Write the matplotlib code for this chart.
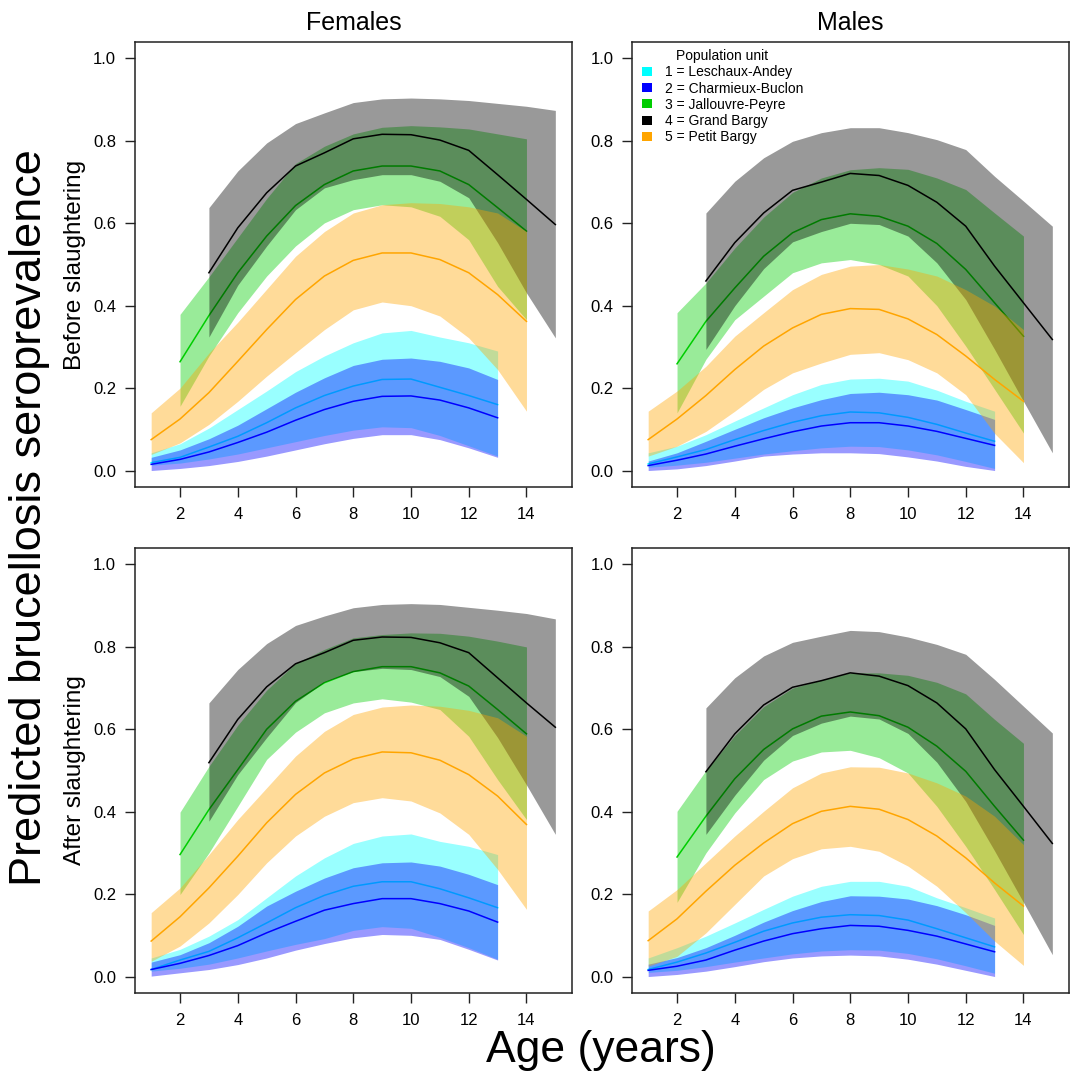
import matplotlib
matplotlib.use('Agg')
import matplotlib.pyplot as plt
from matplotlib.patches import Patch

plt.rcParams['font.family'] = ['Liberation Sans', 'DejaVu Sans']

# AGES covered by each population unit
AGES_U1 = [1, 2, 3, 4, 5, 6, 7, 8, 9, 10, 11, 12, 13]
AGES_U2 = [1, 2, 3, 4, 5, 6, 7, 8, 9, 10, 11, 12, 13]
AGES_U3 = [2, 3, 4, 5, 6, 7, 8, 9, 10, 11, 12, 13, 14]
AGES_U4 = [3, 4, 5, 6, 7, 8, 9, 10, 11, 12, 13, 14, 15]
AGES_U5 = [1, 2, 3, 4, 5, 6, 7, 8, 9, 10, 11, 12, 13, 14]

UNIT_LABELS = ['1 = Leschaux-Andey', '2 = Charmieux-Buclon', '3 = Jallouvre-Peyre',
               '4 = Grand Bargy', '5 = Petit Bargy']
UNIT_COLORS = ['#00FFFF', '#0000FF', '#00CD00', '#000000', '#FFA500']

# FEMALES, BEFORE SLAUGHTERING  (lower, predicted, upper)
fb_u1 = [[0.013, 0.018, 0.028, 0.04, 0.055, 0.07, 0.085, 0.098, 0.106, 0.104, 0.085, 0.06, 0.035],
         [0.019, 0.032, 0.057, 0.083, 0.116, 0.152, 0.182, 0.205, 0.221, 0.222, 0.202, 0.182, 0.16],
         [0.043, 0.065, 0.103, 0.148, 0.193, 0.24, 0.278, 0.31, 0.334, 0.34, 0.324, 0.31, 0.29]]
fb_u2 = [[0.0, 0.005, 0.012, 0.022, 0.035, 0.05, 0.065, 0.078, 0.087, 0.087, 0.075, 0.055, 0.032],
         [0.015, 0.027, 0.045, 0.068, 0.093, 0.122, 0.148, 0.168, 0.18, 0.181, 0.171, 0.152, 0.128],
         [0.032, 0.05, 0.077, 0.11, 0.15, 0.19, 0.225, 0.255, 0.27, 0.273, 0.265, 0.249, 0.221]]
fb_u3 = [[0.156, 0.278, 0.383, 0.472, 0.545, 0.601, 0.633, 0.645, 0.64, 0.617, 0.56, 0.447, 0.366],
         [0.264, 0.376, 0.48, 0.569, 0.643, 0.694, 0.727, 0.739, 0.739, 0.727, 0.694, 0.638, 0.581],
         [0.379, 0.47, 0.565, 0.66, 0.745, 0.787, 0.817, 0.833, 0.837, 0.834, 0.829, 0.817, 0.805]]
fb_u4 = [[0.324, 0.45, 0.545, 0.633, 0.686, 0.706, 0.718, 0.718, 0.702, 0.662, 0.553, 0.431, 0.322],
         [0.48, 0.589, 0.674, 0.739, 0.771, 0.805, 0.816, 0.815, 0.802, 0.777, 0.718, 0.658, 0.597],
         [0.638, 0.727, 0.795, 0.842, 0.868, 0.893, 0.902, 0.904, 0.902, 0.898, 0.891, 0.884, 0.874]]
fb_u5 = [[0.039, 0.067, 0.112, 0.168, 0.229, 0.286, 0.342, 0.39, 0.409, 0.4, 0.375, 0.322, 0.245, 0.144],
         [0.075, 0.125, 0.189, 0.265, 0.342, 0.415, 0.472, 0.51, 0.528, 0.528, 0.512, 0.48, 0.427, 0.362],
         [0.14, 0.2, 0.285, 0.36, 0.44, 0.52, 0.58, 0.625, 0.645, 0.65, 0.648, 0.64, 0.625, 0.58]]

# MALES, BEFORE SLAUGHTERING
mb_u1 = [[0.008, 0.013, 0.02, 0.03, 0.04, 0.048, 0.055, 0.059, 0.058, 0.05, 0.038, 0.022, 0.005],
         [0.016, 0.033, 0.051, 0.075, 0.097, 0.117, 0.133, 0.142, 0.14, 0.129, 0.112, 0.091, 0.071],
         [0.043, 0.059, 0.087, 0.12, 0.152, 0.184, 0.209, 0.222, 0.224, 0.217, 0.195, 0.168, 0.144]]
mb_u2 = [[0.0, 0.004, 0.012, 0.023, 0.035, 0.04, 0.043, 0.043, 0.041, 0.033, 0.023, 0.01, 0.0],
         [0.012, 0.025, 0.04, 0.059, 0.077, 0.094, 0.108, 0.116, 0.116, 0.108, 0.095, 0.078, 0.061],
         [0.023, 0.043, 0.071, 0.1, 0.128, 0.152, 0.172, 0.187, 0.19, 0.184, 0.171, 0.148, 0.124]]
mb_u3 = [[0.14, 0.27, 0.366, 0.423, 0.48, 0.504, 0.512, 0.5, 0.472, 0.4, 0.302, 0.197, 0.091],
         [0.259, 0.362, 0.443, 0.52, 0.577, 0.609, 0.623, 0.617, 0.593, 0.551, 0.488, 0.407, 0.326],
         [0.383, 0.455, 0.54, 0.615, 0.675, 0.71, 0.73, 0.735, 0.731, 0.71, 0.682, 0.625, 0.569]]
mb_u4 = [[0.294, 0.4, 0.49, 0.555, 0.58, 0.6, 0.597, 0.569, 0.504, 0.415, 0.294, 0.168, 0.043],
         [0.46, 0.553, 0.625, 0.68, 0.7, 0.721, 0.716, 0.692, 0.651, 0.593, 0.496, 0.407, 0.318],
         [0.625, 0.702, 0.759, 0.799, 0.82, 0.832, 0.832, 0.82, 0.803, 0.779, 0.714, 0.654, 0.593]]
mb_u5 = [[0.035, 0.059, 0.095, 0.144, 0.197, 0.237, 0.261, 0.282, 0.286, 0.269, 0.237, 0.184, 0.09, 0.019],
         [0.075, 0.125, 0.182, 0.245, 0.302, 0.346, 0.379, 0.393, 0.391, 0.368, 0.33, 0.278, 0.221, 0.168],
         [0.144, 0.193, 0.253, 0.326, 0.383, 0.439, 0.476, 0.496, 0.5, 0.489, 0.472, 0.439, 0.399, 0.342]]

# FEMALES, AFTER SLAUGHTERING
fa_u1 = [[0.013, 0.02, 0.03, 0.045, 0.062, 0.078, 0.092, 0.112, 0.121, 0.117, 0.095, 0.07, 0.042],
         [0.017, 0.04, 0.061, 0.094, 0.13, 0.167, 0.197, 0.219, 0.23, 0.23, 0.213, 0.191, 0.167],
         [0.045, 0.066, 0.098, 0.138, 0.191, 0.244, 0.288, 0.323, 0.341, 0.346, 0.328, 0.316, 0.296]]
fa_u2 = [[0.001, 0.009, 0.017, 0.029, 0.045, 0.064, 0.08, 0.094, 0.102, 0.1, 0.09, 0.066, 0.04],
         [0.017, 0.032, 0.051, 0.075, 0.106, 0.134, 0.161, 0.177, 0.189, 0.189, 0.177, 0.159, 0.132],
         [0.035, 0.053, 0.082, 0.122, 0.171, 0.207, 0.239, 0.264, 0.276, 0.278, 0.268, 0.248, 0.223]]
fa_u3 = [[0.199, 0.3, 0.413, 0.527, 0.593, 0.64, 0.664, 0.674, 0.666, 0.648, 0.583, 0.478, 0.381],
         [0.296, 0.405, 0.502, 0.6, 0.668, 0.713, 0.74, 0.752, 0.752, 0.737, 0.705, 0.648, 0.589],
         [0.399, 0.51, 0.61, 0.695, 0.76, 0.794, 0.822, 0.83, 0.834, 0.833, 0.826, 0.814, 0.8]]
fa_u4 = [[0.377, 0.49, 0.58, 0.665, 0.715, 0.74, 0.748, 0.745, 0.728, 0.68, 0.58, 0.465, 0.345],
         [0.519, 0.624, 0.703, 0.759, 0.786, 0.816, 0.824, 0.823, 0.81, 0.786, 0.725, 0.664, 0.605],
         [0.664, 0.745, 0.808, 0.852, 0.875, 0.895, 0.903, 0.905, 0.903, 0.896, 0.889, 0.881, 0.868]]
fa_u5 = [[0.037, 0.074, 0.13, 0.199, 0.276, 0.341, 0.389, 0.422, 0.434, 0.426, 0.397, 0.345, 0.26, 0.163],
         [0.086, 0.145, 0.215, 0.292, 0.373, 0.442, 0.494, 0.528, 0.545, 0.543, 0.525, 0.49, 0.438, 0.369],
         [0.155, 0.215, 0.296, 0.381, 0.458, 0.535, 0.595, 0.636, 0.654, 0.659, 0.656, 0.646, 0.628, 0.583]]

# MALES, AFTER SLAUGHTERING
ma_u1 = [[0.01, 0.015, 0.024, 0.035, 0.045, 0.055, 0.062, 0.065, 0.064, 0.056, 0.043, 0.026, 0.008],
         [0.017, 0.035, 0.057, 0.083, 0.11, 0.13, 0.144, 0.15, 0.148, 0.137, 0.116, 0.094, 0.072],
         [0.045, 0.07, 0.098, 0.13, 0.163, 0.195, 0.219, 0.231, 0.231, 0.219, 0.191, 0.167, 0.142]]
ma_u2 = [[0.0, 0.005, 0.013, 0.024, 0.036, 0.045, 0.05, 0.052, 0.05, 0.042, 0.03, 0.015, 0.0],
         [0.015, 0.025, 0.04, 0.064, 0.086, 0.104, 0.116, 0.124, 0.122, 0.112, 0.098, 0.079, 0.06],
         [0.03, 0.046, 0.07, 0.1, 0.132, 0.16, 0.182, 0.196, 0.195, 0.188, 0.172, 0.15, 0.124]]
ma_u3 = [[0.18, 0.3, 0.397, 0.478, 0.523, 0.545, 0.549, 0.531, 0.494, 0.413, 0.316, 0.211, 0.102],
         [0.29, 0.389, 0.48, 0.551, 0.601, 0.632, 0.642, 0.633, 0.605, 0.559, 0.498, 0.413, 0.331],
         [0.401, 0.5, 0.585, 0.655, 0.7, 0.72, 0.737, 0.737, 0.731, 0.714, 0.686, 0.624, 0.566]]
ma_u4 = [[0.345, 0.44, 0.525, 0.585, 0.615, 0.632, 0.625, 0.59, 0.52, 0.425, 0.305, 0.18, 0.053],
         [0.497, 0.589, 0.659, 0.702, 0.718, 0.737, 0.729, 0.706, 0.664, 0.601, 0.502, 0.413, 0.323],
         [0.652, 0.725, 0.778, 0.811, 0.826, 0.84, 0.837, 0.824, 0.806, 0.782, 0.721, 0.656, 0.591]]
ma_u5 = [[0.025, 0.049, 0.106, 0.175, 0.244, 0.286, 0.31, 0.316, 0.304, 0.268, 0.219, 0.155, 0.086, 0.027],
         [0.087, 0.14, 0.207, 0.27, 0.324, 0.371, 0.401, 0.413, 0.406, 0.381, 0.341, 0.288, 0.227, 0.171],
         [0.159, 0.211, 0.276, 0.341, 0.401, 0.458, 0.494, 0.509, 0.508, 0.494, 0.47, 0.438, 0.389, 0.32]]

UNIT_AGES = [AGES_U1, AGES_U2, AGES_U3, AGES_U4, AGES_U5]
X_TICKS = [2, 4, 6, 8, 10, 12, 14]
Y_TICKS = [0.0, 0.2, 0.4, 0.6, 0.8, 1.0]


def draw_panel(ax, bands):
    # bands drawn in unit order, each line right after its band (like R polygon + lines)
    for i, (ages, band, col) in enumerate(zip(UNIT_AGES, bands, UNIT_COLORS)):
        lo, mid, hi = band
        ax.fill_between(ages, lo, hi, color=col, alpha=0.4, linewidth=0, zorder=2 + 2 * i)
        ax.plot(ages, mid, color=col, lw=1.1, zorder=3 + 2 * i)
    ax.set_xlim(0.44, 15.56)
    ax.set_ylim(-0.04, 1.04)
    ax.set_xticks(X_TICKS)
    ax.set_yticks(Y_TICKS)
    ax.set_yticklabels(['%.1f' % v for v in Y_TICKS])
    ax.tick_params(axis='both', direction='out', length=7.5, width=1, labelsize=12, color='#222222')
    ax.tick_params(axis='x', pad=7)
    ax.tick_params(axis='y', pad=6)
    for sp in ax.spines.values():
        sp.set_linewidth(1.1)
        sp.set_color('#222222')


fig = plt.figure(figsize=(10.78, 10.76), dpi=100)
W, H = 1078.0, 1076.0
lefts = [135 / W, 632 / W]
width = 436.5 / W
height = 445 / H
bottoms = [1 - 487 / H, 1 - 993 / H]

panels = [[fb_u1, fb_u2, fb_u3, fb_u4, fb_u5],
          [mb_u1, mb_u2, mb_u3, mb_u4, mb_u5],
          [fa_u1, fa_u2, fa_u3, fa_u4, fa_u5],
          [ma_u1, ma_u2, ma_u3, ma_u4, ma_u5]]

axes = []
for k, bands in enumerate(panels):
    row, col = divmod(k, 2)
    ax = fig.add_axes([lefts[col], bottoms[row], width, height])
    draw_panel(ax, bands)
    axes.append(ax)

# LEGEND in the males / before panel
handles = [Patch(facecolor=c, edgecolor='none') for c in UNIT_COLORS]
axes[1].legend(handles, UNIT_LABELS, title='Population unit', loc='upper left',
               bbox_to_anchor=(0.022, 0.984), frameon=False, fontsize=10, title_fontsize=10,
               handlelength=0.72, handleheight=0.62, handletextpad=0.95, labelspacing=0.16,
               borderpad=0, borderaxespad=0)

# TITLES AND LABELS
fig.text((135 + 572) / 2 / W, 1 - 30 / H, 'Females', ha='center', va='baseline', fontsize=18)
fig.text((632 + 1068) / 2 / W, 1 - 30 / H, 'Males', ha='center', va='baseline', fontsize=18)
fig.text(75 / W, 1 - 264.5 / H, 'Before slaughtering', rotation=90, ha='center', va='center', fontsize=17.5)
fig.text(75 / W, 1 - 770.5 / H, 'After slaughtering', rotation=90, ha='center', va='center', fontsize=17.5)
fig.text(30 / W, 1 - 517.5 / H, 'Predicted brucellosis seroprevalence', rotation=90,
         ha='center', va='center', fontsize=32.5)
fig.text(601 / W, 1 - 1062 / H, 'Age (years)', ha='center', va='baseline', fontsize=32)

fig.savefig('out.png', dpi=100)
